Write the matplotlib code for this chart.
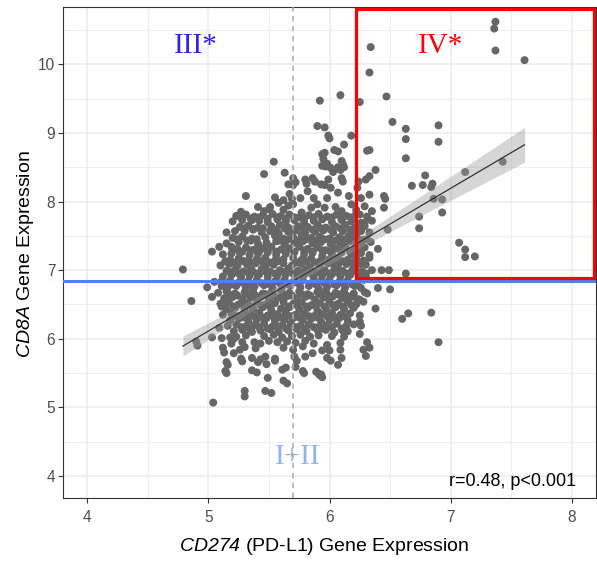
import numpy as np
import matplotlib
matplotlib.use("Agg")
import matplotlib.pyplot as plt
from matplotlib.patches import Rectangle
from matplotlib.ticker import MultipleLocator

# points as (CD274, CD8A), grouped by region
top_pts = [
    (7.37, 10.62), (7.36, 10.52), (7.37, 10.20), (7.61, 10.06), (6.34, 10.25), (6.33, 9.88),
    (5.92, 9.47), (6.09, 9.55), (6.25, 9.45), (6.47, 9.53), (6.52, 9.16), (6.63, 9.06),
    (6.63, 8.91), (6.90, 9.11), (6.90, 8.87), (6.63, 8.63),
    (5.90, 9.10), (5.96, 9.08), (5.99, 8.96), (6.00, 8.92), (6.18, 8.96), (6.12, 8.83),
    (6.04, 8.75), (6.07, 8.73), (5.94, 8.69), (5.96, 8.71), (6.31, 8.74), (6.33, 8.75),
    (5.54, 8.58), (5.46, 8.40), (5.63, 8.42), (5.97, 8.51), (5.98, 8.55), (6.11, 8.54),
    (6.12, 8.50), (6.03, 8.43), (6.09, 8.46), (6.38, 8.46), (5.94, 8.52), (6.01, 8.49),
    (6.07, 8.50), (6.10, 8.59), (5.95, 8.62),
]

right_pts = [
    (7.12, 8.43), (7.43, 8.58), (6.79, 8.38), (6.68, 8.23), (6.77, 8.24), (6.85, 8.26),
    (6.84, 8.21), (6.86, 8.04), (6.93, 8.03), (6.74, 7.78), (6.74, 7.61), (6.93, 7.84),
    (7.07, 7.40), (7.12, 7.30), (7.12, 7.19), (7.20, 7.20), (6.63, 6.95),
    (6.46, 8.04), (6.45, 8.08), (6.45, 7.91), (6.48, 7.59), (6.40, 7.31), (6.49, 7.00),
    (6.43, 7.00), (6.40, 6.74), (6.50, 6.72), (6.38, 6.44), (6.60, 6.29), (6.65, 6.37),
    (6.84, 6.38), (6.90, 5.95), (6.33, 5.87), (6.30, 5.75), (6.26, 6.19), (6.25, 6.07),
    (6.31, 6.66), (6.25, 6.57), (6.25, 6.25), (6.15, 6.11),
    (6.25, 7.81), (6.29, 7.69), (6.23, 7.57), (6.31, 7.45), (6.25, 7.28), (6.33, 7.18),
    (6.26, 7.09), (6.30, 6.95),
]

low_pts = [
    (5.04, 5.07), (5.30, 5.24), (5.30, 5.16), (5.47, 5.24), (5.52, 5.21), (5.15, 5.50),
    (5.16, 5.62), (5.28, 5.67), (5.36, 5.54), (5.40, 5.51), (5.49, 5.43), (5.41, 5.66),
    (5.48, 5.63), (5.55, 5.68), (5.61, 5.55), (5.64, 5.58), (5.62, 5.39), (5.65, 5.35),
    (5.72, 5.59), (5.73, 5.68), (5.79, 5.50), (5.91, 5.49), (5.94, 5.44), (5.93, 5.48),
    (6.01, 5.68), (6.07, 5.62), (6.10, 5.72), (6.09, 5.84), (6.09, 5.94), (5.98, 5.72),
    (6.28, 5.84), (6.31, 5.95), (6.11, 6.12), (5.90, 6.13), (5.55, 5.71), (5.36, 5.72),
    (5.43, 5.70), (5.47, 5.74), (5.26, 5.84), (5.27, 5.71), (5.21, 5.79), (5.21, 6.00),
    (5.18, 6.02), (5.38, 5.95), (5.43, 5.93), (5.50, 5.97), (5.57, 5.95), (5.12, 5.87),
    (4.90, 5.96), (5.03, 6.02), (5.86, 5.79), (5.94, 5.83), (5.98, 5.91), (5.71, 5.74),
    (5.80, 5.74), (5.78, 5.53), (5.89, 5.52), (5.92, 5.47), (6.00, 5.83), (5.13, 5.80),
    (5.19, 5.93), (5.15, 5.66), (5.14, 5.53), (5.09, 6.16), (5.11, 6.01),
]

left_pts = [
    (4.79, 7.01), (4.86, 6.55), (4.91, 5.90), (4.99, 6.75), (5.03, 6.61), (5.11, 6.77),
    (5.11, 6.84), (5.03, 7.27), (5.09, 7.34), (5.19, 7.34), (5.19, 7.24), (5.27, 7.85),
    (5.31, 8.08), (5.30, 7.57), (5.37, 7.60), (5.35, 7.43), (5.41, 7.38), (5.28, 7.14),
    (5.41, 7.92), (5.36, 7.73), (5.50, 7.89), (5.55, 8.06), (5.11, 6.47), (5.15, 6.56),
]

core_pts = [
    (5.70, 8.34), (5.70, 8.24), (5.80, 8.32), (5.86, 8.34), (5.99, 8.32), (5.93, 8.25),
    (6.10, 8.34), (6.24, 8.29), (6.30, 8.32), (6.33, 8.37), (6.23, 8.20), (6.01, 8.20),
    (5.66, 8.25), (5.72, 8.28), (5.81, 8.26), (5.88, 8.29), (5.96, 8.24), (6.11, 8.29),
    (5.82, 8.15), (6.07, 8.13), (6.16, 8.08), (6.26, 8.05), (6.33, 8.10), (5.98, 8.05),
    (5.87, 8.05), (5.76, 8.05), (5.67, 8.11), (5.69, 8.04), (5.62, 8.02),
    (5.90, 7.96), (5.85, 7.91), (5.96, 7.91), (6.10, 7.86), (6.18, 7.96), (6.29, 7.93),
    (5.70, 7.96), (5.77, 7.84), (5.51, 7.92), (5.58, 7.98), (5.62, 7.88), (5.66, 7.94),
    (6.05, 7.92), (6.22, 7.88), (6.35, 7.86), (5.46, 7.86),
    (5.23, 7.79), (5.31, 7.81), (5.38, 7.78), (5.45, 7.80), (5.53, 7.82), (5.60, 7.79),
    (5.67, 7.81), (5.75, 7.77), (5.83, 7.80), (5.91, 7.82), (5.98, 7.78), (6.06, 7.81),
    (6.14, 7.79), (6.22, 7.82), (6.31, 7.78),
    (5.20, 7.71), (5.28, 7.73), (5.42, 7.72), (5.49, 7.70), (5.57, 7.74), (5.64, 7.71),
    (5.71, 7.73), (5.79, 7.70), (5.87, 7.72), (5.94, 7.74), (6.02, 7.70), (6.10, 7.73),
    (6.18, 7.71), (6.26, 7.69), (6.35, 7.72),
    (5.26, 7.63), (5.33, 7.65), (5.41, 7.62), (5.52, 7.64), (5.59, 7.66), (5.66, 7.62),
    (5.74, 7.64), (5.82, 7.63), (5.90, 7.66), (5.97, 7.62), (6.05, 7.64), (6.13, 7.66),
    (6.21, 7.62), (6.29, 7.64),
    (5.15, 7.55), (5.22, 7.57), (5.44, 7.55), (5.51, 7.57), (5.58, 7.54), (5.66, 7.56),
    (5.73, 7.58), (5.80, 7.54), (5.88, 7.56), (5.95, 7.58), (6.03, 7.55), (6.11, 7.57),
    (6.19, 7.54), (6.26, 7.57), (6.33, 7.55),
    (5.20, 7.47), (5.28, 7.49), (5.36, 7.46), (5.47, 7.48), (5.55, 7.50), (5.62, 7.46),
    (5.70, 7.48), (5.77, 7.50), (5.85, 7.47), (5.92, 7.49), (6.00, 7.46), (6.08, 7.48),
    (6.16, 7.50), (6.23, 7.47), (6.28, 7.44),
    (5.15, 7.39), (5.25, 7.41), (5.48, 7.40), (5.56, 7.42), (5.63, 7.38), (5.71, 7.40),
    (5.78, 7.42), (5.86, 7.39), (5.93, 7.41), (6.01, 7.38), (6.09, 7.40), (6.17, 7.42),
    (6.25, 7.39), (6.34, 7.41),
    (5.24, 7.31), (5.31, 7.33), (5.38, 7.30), (5.45, 7.32), (5.52, 7.34), (5.60, 7.30),
    (5.67, 7.32), (5.75, 7.34), (5.82, 7.31), (5.90, 7.33), (5.97, 7.29), (6.05, 7.32),
    (6.13, 7.34), (6.21, 7.31), (6.29, 7.33),
    (5.12, 7.23), (5.26, 7.25), (5.34, 7.22), (5.41, 7.24), (5.49, 7.26), (5.56, 7.22),
    (5.64, 7.24), (5.71, 7.26), (5.79, 7.23), (5.86, 7.25), (5.94, 7.21), (6.02, 7.24),
    (6.10, 7.26), (6.18, 7.23), (6.26, 7.25), (6.33, 7.22),
    (5.18, 7.15), (5.25, 7.17), (5.33, 7.14), (5.40, 7.16), (5.47, 7.18), (5.55, 7.14),
    (5.62, 7.16), (5.70, 7.18), (5.77, 7.15), (5.85, 7.17), (5.92, 7.13), (6.00, 7.16),
    (6.07, 7.18), (6.15, 7.15), (6.22, 7.17), (6.28, 7.14),
    (5.10, 7.07), (5.17, 7.09), (5.24, 7.06), (5.32, 7.08), (5.39, 7.10), (5.47, 7.06),
    (5.54, 7.08), (5.62, 7.10), (5.69, 7.07), (5.77, 7.09), (5.84, 7.05), (5.92, 7.08),
    (5.99, 7.10), (6.07, 7.07), (6.14, 7.09), (6.22, 7.06), (6.30, 7.08),
    (5.15, 6.99), (5.22, 7.01), (5.29, 6.98), (5.36, 7.00), (5.44, 7.02), (5.51, 6.98),
    (5.59, 7.00), (5.66, 7.02), (5.74, 6.99), (5.81, 7.01), (5.89, 6.97), (5.96, 7.00),
    (6.04, 7.02), (6.11, 6.99), (6.19, 7.01), (6.27, 6.98), (6.35, 7.00),
    (5.12, 6.91), (5.19, 6.93), (5.27, 6.90), (5.34, 6.92), (5.42, 6.94), (5.49, 6.90),
    (5.57, 6.92), (5.64, 6.94), (5.72, 6.91), (5.79, 6.93), (5.87, 6.89), (5.94, 6.92),
    (6.02, 6.94), (6.09, 6.91), (6.17, 6.93), (6.24, 6.90), (6.30, 6.92),
    (5.05, 6.83), (5.18, 6.85), (5.25, 6.82), (5.33, 6.84), (5.40, 6.86), (5.48, 6.82),
    (5.55, 6.84), (5.63, 6.86), (5.70, 6.83), (5.78, 6.85), (5.85, 6.81), (5.93, 6.84),
    (6.00, 6.86), (6.08, 6.83), (6.15, 6.85), (6.23, 6.82), (6.28, 6.86),
    (5.16, 6.75), (5.23, 6.77), (5.31, 6.74), (5.38, 6.76), (5.46, 6.78), (5.53, 6.74),
    (5.61, 6.76), (5.68, 6.78), (5.76, 6.75), (5.83, 6.77), (5.91, 6.73), (5.98, 6.76),
    (6.06, 6.78), (6.13, 6.75), (6.21, 6.77), (6.26, 6.74),
    (5.08, 6.67), (5.15, 6.69), (5.22, 6.66), (5.30, 6.68), (5.37, 6.70), (5.45, 6.66),
    (5.52, 6.68), (5.60, 6.70), (5.67, 6.67), (5.75, 6.69), (5.82, 6.65), (5.90, 6.68),
    (5.97, 6.70), (6.05, 6.67), (6.12, 6.69), (6.20, 6.66), (6.29, 6.68),
    (5.13, 6.59), (5.20, 6.61), (5.28, 6.58), (5.35, 6.60), (5.43, 6.62), (5.50, 6.58),
    (5.58, 6.60), (5.65, 6.62), (5.73, 6.59), (5.80, 6.61), (5.88, 6.57), (5.95, 6.60),
    (6.03, 6.62), (6.10, 6.59), (6.18, 6.61), (6.23, 6.58),
    (5.10, 6.51), (5.17, 6.53), (5.25, 6.50), (5.32, 6.52), (5.40, 6.54), (5.47, 6.50),
    (5.55, 6.52), (5.62, 6.54), (5.70, 6.51), (5.77, 6.53), (5.85, 6.49), (5.92, 6.52),
    (6.00, 6.54), (6.07, 6.51), (6.15, 6.53), (6.22, 6.50), (6.28, 6.54),
    (5.15, 6.43), (5.22, 6.45), (5.30, 6.42), (5.37, 6.44), (5.45, 6.46), (5.52, 6.42),
    (5.60, 6.44), (5.67, 6.46), (5.75, 6.43), (5.82, 6.45), (5.90, 6.41), (5.97, 6.44),
    (6.05, 6.46), (6.12, 6.43), (6.20, 6.45),
    (5.12, 6.35), (5.19, 6.37), (5.27, 6.34), (5.34, 6.36), (5.42, 6.38), (5.49, 6.34),
    (5.57, 6.36), (5.64, 6.38), (5.72, 6.35), (5.79, 6.37), (5.87, 6.33), (5.94, 6.36),
    (6.02, 6.38), (6.09, 6.35), (6.17, 6.37), (6.25, 6.34),
    (5.18, 6.27), (5.25, 6.29), (5.33, 6.26), (5.40, 6.28), (5.48, 6.30), (5.55, 6.26),
    (5.63, 6.28), (5.70, 6.30), (5.78, 6.27), (5.85, 6.29), (5.93, 6.25), (6.00, 6.28),
    (6.08, 6.30), (6.15, 6.27),
    (5.16, 6.19), (5.23, 6.21), (5.31, 6.18), (5.38, 6.20), (5.46, 6.22), (5.53, 6.18),
    (5.61, 6.20), (5.68, 6.22), (5.76, 6.19), (5.83, 6.21), (5.91, 6.17), (5.98, 6.20),
    (6.06, 6.22), (6.14, 6.19), (6.20, 6.21),
    (5.21, 6.11), (5.28, 6.13), (5.36, 6.10), (5.43, 6.12), (5.51, 6.14), (5.58, 6.10),
    (5.66, 6.12), (5.73, 6.14), (5.81, 6.11), (5.97, 6.13), (6.04, 6.09),
    (5.23, 6.03), (5.31, 6.05), (5.46, 6.04), (5.54, 6.06), (5.61, 6.02), (5.69, 6.04),
    (5.76, 6.06), (5.84, 6.03), (5.91, 6.05), (6.02, 6.04), (6.12, 6.03),
    (5.28, 5.95), (5.65, 5.96), (5.72, 5.94), (5.80, 5.97), (5.87, 5.93),
    (5.30, 5.88), (5.39, 5.86), (5.62, 5.87), (5.70, 5.84), (5.78, 5.89),
]

# extra points in the densest part of the cloud
fill_pts = [
    (5.27, 7.77), (5.35, 7.75), (5.42, 7.77), (5.49, 7.75), (5.57, 7.77), (5.64, 7.75),
    (5.71, 7.77), (5.79, 7.75), (5.87, 7.77), (5.94, 7.75), (6.02, 7.77), (6.10, 7.75),
    (6.18, 7.77),
    (5.30, 7.61), (5.37, 7.59), (5.45, 7.61), (5.56, 7.59), (5.63, 7.61), (5.70, 7.59),
    (5.78, 7.61), (5.86, 7.59), (5.93, 7.61), (6.01, 7.59), (6.09, 7.61), (6.17, 7.59),
    (6.25, 7.61),
    (5.24, 7.45), (5.32, 7.43), (5.40, 7.45), (5.59, 7.43), (5.66, 7.45), (5.74, 7.43),
    (5.81, 7.45), (5.89, 7.43), (5.96, 7.45), (6.04, 7.43), (6.12, 7.45), (6.20, 7.43),
    (5.20, 7.29), (5.28, 7.27), (5.35, 7.29), (5.42, 7.27), (5.49, 7.29), (5.56, 7.27),
    (5.64, 7.29), (5.71, 7.27), (5.79, 7.29), (5.86, 7.27), (5.94, 7.29), (6.01, 7.27),
    (6.09, 7.29), (6.17, 7.27), (6.25, 7.29),
    (5.14, 7.13), (5.21, 7.11), (5.29, 7.13), (5.36, 7.11), (5.44, 7.13), (5.51, 7.11),
    (5.58, 7.13), (5.73, 7.11), (5.81, 7.13), (5.88, 7.11), (5.96, 7.13), (6.03, 7.11),
    (6.11, 7.13), (6.19, 7.11),
    (5.18, 6.97), (5.25, 6.95), (5.33, 6.97), (5.40, 6.95), (5.48, 6.97), (5.55, 6.95),
    (5.62, 6.97), (5.70, 6.95), (5.77, 6.97), (5.85, 6.95), (5.92, 6.97), (6.00, 6.95),
    (6.07, 6.97), (6.15, 6.95), (6.23, 6.97),
    (5.14, 6.81), (5.21, 6.79), (5.29, 6.81), (5.36, 6.79), (5.44, 6.81), (5.51, 6.79),
    (5.59, 6.81), (5.66, 6.79), (5.74, 6.81), (5.89, 6.79), (5.96, 6.81), (6.04, 6.79),
    (6.11, 6.81), (6.19, 6.79),
    (5.17, 6.65), (5.24, 6.63), (5.32, 6.65), (5.39, 6.63), (5.47, 6.65), (5.54, 6.63),
    (5.62, 6.65), (5.69, 6.63), (5.77, 6.65), (5.84, 6.63), (5.92, 6.65), (5.99, 6.63),
    (6.07, 6.65), (6.14, 6.63),
    (5.13, 6.49), (5.21, 6.47), (5.28, 6.49), (5.36, 6.47), (5.43, 6.49), (5.51, 6.47),
    (5.66, 6.47), (5.73, 6.49), (5.81, 6.47), (5.88, 6.49), (5.96, 6.47), (6.03, 6.49),
    (6.11, 6.47), (6.18, 6.49),
    (5.23, 6.33), (5.30, 6.31), (5.38, 6.33), (5.45, 6.31), (5.53, 6.33), (5.60, 6.31),
    (5.68, 6.33), (5.75, 6.31), (5.83, 6.33), (5.90, 6.31), (5.98, 6.33), (6.05, 6.31),
    (6.12, 6.33),
    (5.27, 6.17), (5.34, 6.15), (5.42, 6.17), (5.49, 6.15), (5.57, 6.17), (5.64, 6.15),
    (5.72, 6.17), (5.79, 6.15), (5.87, 6.17), (5.94, 6.15), (6.02, 6.17), (6.10, 6.15),
]

# cut-offs, quadrant IV box and fitted line
cd274_cut = 5.70
cd8a_cut = 6.84
box_x = [6.22, 8.18]
box_y = [6.88, 10.80]
fit_slope = 1.04
stat_text = "r=0.48, p<0.001"

pts = np.array(top_pts + right_pts + low_pts + left_pts + core_pts + fill_pts)
cd274 = pts[:, 0]
cd8a = pts[:, 1]

plt.rcParams['font.family'] = ['Liberation Sans', 'DejaVu Sans']
# gene names are set in italic, digits included
plt.rcParams['mathtext.fontset'] = 'custom'
plt.rcParams['mathtext.rm'] = 'Liberation Sans:italic'
plt.rcParams['mathtext.it'] = 'Liberation Sans:italic'

fig = plt.figure(figsize=(5.97, 5.61), dpi=100)
ax = fig.add_axes([63 / 597, 63 / 561, 533 / 597, 490.7 / 561])

ax.scatter(cd274, cd8a, s=33, c='#666666', edgecolors='none', zorder=2)

# linear fit with 95% band (lm style)
xbar = cd274.mean()
xs = np.linspace(cd274.min(), cd274.max(), 100)
yfit = cd8a_cut + fit_slope * (xs - cd274_cut)
resid = cd8a - (cd8a_cut + fit_slope * (cd274 - cd274_cut))
n = len(cd274)
s = np.sqrt((resid ** 2).sum() / (n - 2))
sxx = ((cd274 - xbar) ** 2).sum()
half = 1.96 * s * np.sqrt(1 / n + (xs - xbar) ** 2 / sxx)
ax.fill_between(xs, yfit - half, yfit + half, color='#999999', alpha=0.4, lw=0, zorder=3)
ax.plot(xs, yfit, color='#333333', lw=0.9, zorder=4)

ax.axvline(cd274_cut, color='#aaaaaa', lw=1.1, ls=(0, (3.5, 3)), zorder=4)
ax.axhline(cd8a_cut, color='#4f7ffa', lw=2.2, zorder=5)
ax.add_patch(Rectangle((box_x[0], box_y[0]), box_x[1] - box_x[0], box_y[1] - box_y[0],
                       fill=False, ec='#ff0000', lw=2.3, zorder=6))

ax.text(4.90, 10.17, "III*", family='Liberation Serif', fontsize=21, color='#3322ee',
        ha='center', va='baseline')
ax.text(6.92, 10.17, "IV*", family='Liberation Serif', fontsize=21, color='#ff0000',
        ha='center', va='baseline')
ax.text(5.74, 4.17, "I+II", family='Liberation Serif', fontsize=21, color='#8fb3ea',
        ha='center', va='baseline')
ax.text(8.04, 3.85, stat_text, fontsize=13, color='black', ha='right', va='baseline')

ax.set_xlim(3.8, 8.2)
ax.set_ylim(3.68, 10.83)
ax.set_xticks([4, 5, 6, 7, 8])
ax.set_yticks([4, 5, 6, 7, 8, 9, 10])
ax.xaxis.set_minor_locator(MultipleLocator(0.5))
ax.yaxis.set_minor_locator(MultipleLocator(0.5))
ax.grid(which='major', color='#ebebeb', lw=1.1)
ax.grid(which='minor', color='#ebebeb', lw=0.6)
ax.set_axisbelow(True)
ax.tick_params(which='minor', length=0)
ax.tick_params(which='major', length=3.5, width=0.8, color='#333333',
               labelsize=11.2, labelcolor='#4d4d4d')
ax.tick_params(axis='x', pad=5)
ax.tick_params(axis='y', pad=2)
for sp in ax.spines.values():
    sp.set_color('#333333')
    sp.set_linewidth(0.8)

ax.set_xlabel(r'$CD274$ (PD-L1) Gene Expression', fontsize=14)
ax.set_ylabel(r'$CD8A$ Gene Expression', fontsize=14)
ax.xaxis.set_label_coords(0.49, -0.098)
ax.xaxis.label.set_va('center')
ax.yaxis.set_label_coords(-0.071, 0.497)
ax.yaxis.label.set_va('center')

fig.savefig('out.png', dpi=100)
